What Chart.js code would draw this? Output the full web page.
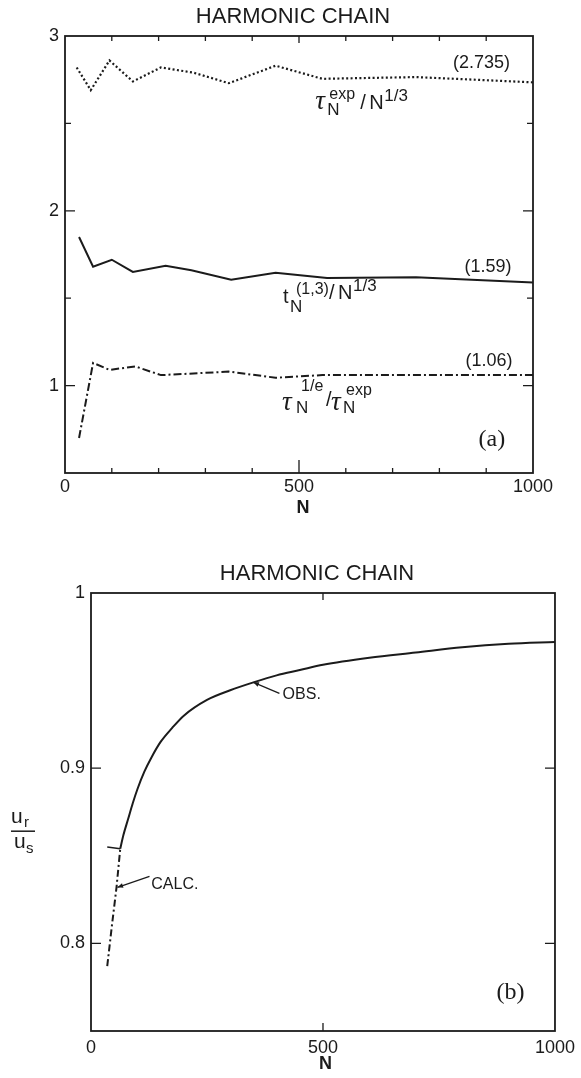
<!DOCTYPE html>
<html>
<head>
<meta charset="utf-8">
<script src="https://cdn.jsdelivr.net/npm/chart.js"></script>
<style>
  body { margin: 0; background: #fff; }
  canvas { position: absolute; left: 0; }
  #chartA { top: 0; }
  #chartB { top: 530px; }
</style>
</head>
<body>
<canvas id="chartA" width="581" height="530"></canvas>
<canvas id="chartB" width="581" height="548"></canvas>
<script>
// (a) relaxation ratios vs chain length N
const nExp = [25, 55, 95, 145, 205, 275, 350, 450, 550, 750, 1000];
const tauExpRatio = [2.82, 2.69, 2.86, 2.74, 2.82, 2.79, 2.73, 2.83, 2.755, 2.765, 2.735];
const nT13 = [30, 60, 100, 145, 215, 270, 355, 450, 560, 750, 1000];
const t13Ratio = [1.85, 1.68, 1.72, 1.65, 1.685, 1.66, 1.605, 1.645, 1.615, 1.62, 1.59];
const nTauE = [30, 60, 95, 150, 205, 350, 450, 550, 1000];
const tauERatio = [0.70, 1.13, 1.09, 1.11, 1.06, 1.08, 1.045, 1.06, 1.06];

// (b) u_r / u_s vs N
const nObs = [63, 70, 80, 90, 100, 115, 130, 150, 175, 200, 250, 300, 350, 400, 450, 500, 600, 700, 800, 900, 1000];
const obsRatio = [0.854, 0.862, 0.871, 0.880, 0.888, 0.898, 0.906, 0.915, 0.923, 0.930, 0.939, 0.9445, 0.949, 0.953, 0.956, 0.959, 0.963, 0.966, 0.969, 0.971, 0.972];
const nCalc = [35, 45, 55, 63];
const calcRatio = [0.787, 0.810, 0.832, 0.854];
const nJoin = [35, 63];
const joinRatio = [0.855, 0.854];

// ticks
const xTickLabels = [0, 500, 1000];
const xMarksA = [100, 200, 300, 400, 500, 600, 700, 800, 900];
const yTicksA = [1, 2, 3];
const yMarksA = [1, 1.5, 2, 2.5];
const xMarksB = [500];
const yTicksB = [0.8, 0.9, 1];
const yMarksB = [0.8, 0.9];

const INK = '#1b1b1b';
const SANS = "'Liberation Sans', Arial, sans-serif";
const SERIF = "'Liberation Serif', 'Times New Roman', serif";

const pts = (xs, ys) => xs.map((x, i) => ({ x: x, y: ys[i] }));

function drawRuns(ctx, x0, y0, runs) {
  runs.forEach(r => {
    ctx.font = r.f;
    ctx.fillText(r.t, x0 + (r.dx || 0), y0 + (r.dy || 0));
  });
}

function arrow(ctx, fx, fy, tx, ty) {
  const ang = Math.atan2(ty - fy, tx - fx);
  ctx.beginPath();
  ctx.moveTo(fx, fy);
  ctx.lineTo(tx, ty);
  ctx.stroke();
  ctx.beginPath();
  ctx.moveTo(tx, ty);
  ctx.lineTo(tx - 6 * Math.cos(ang - 0.4), ty - 6 * Math.sin(ang - 0.4));
  ctx.lineTo(tx - 6 * Math.cos(ang + 0.4), ty - 6 * Math.sin(ang + 0.4));
  ctx.closePath();
  ctx.fill();
}

// box around the plot plus inward tick marks on all four sides
function frame(xMarks, yMarks, yMajor) {
  return {
    id: 'frame',
    afterDraw(chart) {
      const { ctx, chartArea: a, scales: { x, y } } = chart;
      ctx.save();
      ctx.strokeStyle = INK;
      ctx.lineWidth = 1.8;
      ctx.strokeRect(a.left, a.top, a.right - a.left, a.bottom - a.top);
      ctx.lineWidth = 1.3;
      ctx.beginPath();
      xMarks.forEach(v => {
        const px = x.getPixelForValue(v);
        const up = v === 500 ? (xMarks.length > 1 ? 13 : 8) : 5;
        const down = v === 500 ? 7 : 5;
        ctx.moveTo(px, a.bottom); ctx.lineTo(px, a.bottom - up);
        ctx.moveTo(px, a.top); ctx.lineTo(px, a.top + down);
      });
      yMarks.forEach(v => {
        const py = y.getPixelForValue(v);
        const len = yMajor.includes(v) ? 10 : 6;
        ctx.moveTo(a.left, py); ctx.lineTo(a.left + len, py);
        ctx.moveTo(a.right, py); ctx.lineTo(a.right - len, py);
      });
      ctx.stroke();
      ctx.restore();
    }
  };
}

function baseOptions(xMin, xMax, yMin, yMax, yTicks, yFmt, yWidth, xHeight, pad, xPad) {
  return {
    responsive: false,
    animation: false,
    layout: { padding: pad },
    plugins: { legend: { display: false }, tooltip: { enabled: false } },
    elements: { point: { radius: 0 }, line: { borderColor: INK, borderWidth: 2, tension: 0 } },
    scales: {
      x: {
        type: 'linear', min: xMin, max: xMax,
        afterBuildTicks: s => { s.ticks = xTickLabels.map(v => ({ value: v })); },
        afterFit: s => { s.height = xHeight; },
        grid: { display: false, drawTicks: false, tickLength: 0 },
        border: { display: false },
        ticks: { color: INK, font: { family: SANS, size: 18 }, padding: xPad, maxRotation: 0, callback: v => String(v) }
      },
      y: {
        type: 'linear', min: yMin, max: yMax,
        afterBuildTicks: s => { s.ticks = yTicks.map(v => ({ value: v })); },
        afterFit: s => { s.width = yWidth; },
        grid: { display: false, drawTicks: false, tickLength: 0 },
        border: { display: false },
        ticks: { color: INK, font: { family: SANS, size: 18 }, padding: 6, callback: yFmt }
      }
    }
  };
}

const textA = {
  id: 'textA',
  afterDraw(chart) {
    const { ctx, chartArea: a, scales: { x, y } } = chart;
    ctx.save();
    ctx.fillStyle = INK;
    ctx.strokeStyle = INK;
    ctx.textBaseline = 'middle';
    ctx.textAlign = 'center';
    ctx.font = `22px ${SANS}`;
    ctx.fillText('HARMONIC CHAIN', (a.left + a.right) / 2 - 6, a.top - 19);
    ctx.font = `bold 18px ${SANS}`;
    ctx.fillText('N', (a.left + a.right) / 2 + 4, a.bottom + 35);
    ctx.font = `18px ${SANS}`;
    ctx.fillText('(2.735)', x.getPixelForValue(890), y.getPixelForValue(2.846));
    ctx.fillText('(1.59)', x.getPixelForValue(904), y.getPixelForValue(1.678));
    ctx.fillText('(1.06)', x.getPixelForValue(906), y.getPixelForValue(1.142));
    ctx.font = `24px ${SERIF}`;
    ctx.fillText('(a)', x.getPixelForValue(912), y.getPixelForValue(0.692));

    ctx.textAlign = 'left';
    ctx.textBaseline = 'alphabetic';
    drawRuns(ctx, x.getPixelForValue(537), y.getPixelForValue(2.584), [
      { t: 'τ', f: `italic 27px ${SERIF}`, dx: -1 },
      { t: 'N', f: `17px ${SANS}`, dx: 11, dy: 6 },
      { t: 'exp', f: `16px ${SANS}`, dx: 13, dy: -10 },
      { t: '/', f: `20px ${SANS}`, dx: 44 },
      { t: 'N', f: `20px ${SANS}`, dx: 53 },
      { t: '1/3', f: `17px ${SANS}`, dx: 68, dy: -8 }
    ]);
    drawRuns(ctx, x.getPixelForValue(461.5), y.getPixelForValue(1.484), [
      { t: 't', f: `20px ${SANS}`, dx: 2, dy: 2 },
      { t: 'N', f: `17px ${SANS}`, dx: 9, dy: 11 },
      { t: '(1,3)', f: `16px ${SANS}`, dx: 15, dy: -7 },
      { t: '/', f: `20px ${SANS}`, dx: 48, dy: -2 },
      { t: 'N', f: `20px ${SANS}`, dx: 57, dy: -2 },
      { t: '1/3', f: `17px ${SANS}`, dx: 72, dy: -10 }
    ]);
    drawRuns(ctx, x.getPixelForValue(466), y.getPixelForValue(0.858), [
      { t: 'τ', f: `italic 27px ${SERIF}`, dx: -1 },
      { t: 'N', f: `17px ${SANS}`, dx: 13, dy: 3 },
      { t: '1/e', f: `16px ${SANS}`, dx: 18, dy: -19 },
      { t: '/', f: `20px ${SANS}`, dx: 43, dy: -4 },
      { t: 'τ', f: `italic 27px ${SERIF}`, dx: 48 },
      { t: 'N', f: `17px ${SANS}`, dx: 60, dy: 3 },
      { t: 'exp', f: `16px ${SANS}`, dx: 63, dy: -15 }
    ]);
    ctx.restore();
  }
};

const textB = {
  id: 'textB',
  afterDraw(chart) {
    const { ctx, chartArea: a, scales: { x, y } } = chart;
    ctx.save();
    ctx.fillStyle = INK;
    ctx.strokeStyle = INK;
    ctx.textBaseline = 'middle';
    ctx.textAlign = 'center';
    ctx.font = `22px ${SANS}`;
    ctx.fillText('HARMONIC CHAIN', (a.left + a.right) / 2 - 6, a.top - 19);
    ctx.font = `bold 18px ${SANS}`;
    ctx.fillText('N', (a.left + a.right) / 2 + 2.5, a.bottom + 33);
    ctx.font = `24px ${SERIF}`;
    ctx.fillText('(b)', x.getPixelForValue(904), y.getPixelForValue(0.7717));

    // u_r / u_s axis label
    ctx.textAlign = 'left';
    ctx.textBaseline = 'alphabetic';
    const my = y.getPixelForValue(0.9) + 63;
    ctx.font = `21px ${SANS}`;
    ctx.fillText('u', 11, my - 8);
    ctx.fillText('u', 14, my + 17);
    ctx.font = `15px ${SANS}`;
    ctx.fillText('r', 24, my - 4);
    ctx.fillText('s', 26, my + 22);
    ctx.lineWidth = 1.5;
    ctx.beginPath();
    ctx.moveTo(11, my); ctx.lineTo(35, my);
    ctx.stroke();

    // pointers to the two curves
    ctx.lineWidth = 1.2;
    ctx.font = `16px ${SANS}`;
    ctx.textBaseline = 'middle';
    const ox = x.getPixelForValue(nObs[12]), oy = y.getPixelForValue(obsRatio[12]);
    arrow(ctx, ox + 26, oy + 11, ox, oy);
    ctx.fillText('OBS.', x.getPixelForValue(413), y.getPixelForValue(0.942));
    const cx = x.getPixelForValue(nCalc[2]), cy = y.getPixelForValue(calcRatio[2]);
    arrow(ctx, cx + 33, cy - 11, cx + 1, cy);
    ctx.fillText('CALC.', x.getPixelForValue(130), y.getPixelForValue(0.8336));
    ctx.restore();
  }
};

new Chart(document.getElementById('chartA'), {
  type: 'scatter',
  data: {
    datasets: [
      { data: pts(nExp, tauExpRatio), showLine: true, borderWidth: 2.2, borderDash: [2, 2.4] },
      { data: pts(nT13, t13Ratio), showLine: true, borderWidth: 2 },
      { data: pts(nTauE, tauERatio), showLine: true, borderWidth: 2, borderDash: [8, 3, 2, 3] }
    ]
  },
  options: baseOptions(0, 1000, 0.5, 3, yTicksA, v => String(v), 65, 57,
    { top: 36, right: 48, left: 0, bottom: 0 }, 3),
  plugins: [frame(xMarksA, yMarksA, yTicksA), textA]
});

new Chart(document.getElementById('chartB'), {
  type: 'scatter',
  data: {
    datasets: [
      { data: pts(nObs, obsRatio), showLine: true, borderWidth: 2, cubicInterpolationMode: 'monotone' },
      { data: pts(nCalc, calcRatio), showLine: true, borderWidth: 2, borderDash: [7, 3, 2, 3] },
      { data: pts(nJoin, joinRatio), showLine: true, borderWidth: 1.5 }
    ]
  },
  options: baseOptions(0, 1000, 0.75, 1, yTicksB, v => (v === 1 ? '1' : v.toFixed(1)), 91, 47,
    { top: 63, right: 23, left: 0, bottom: 0 }, 6),
  plugins: [frame(xMarksB, yMarksB, yMarksB), textB]
});
</script>
</body>
</html>
